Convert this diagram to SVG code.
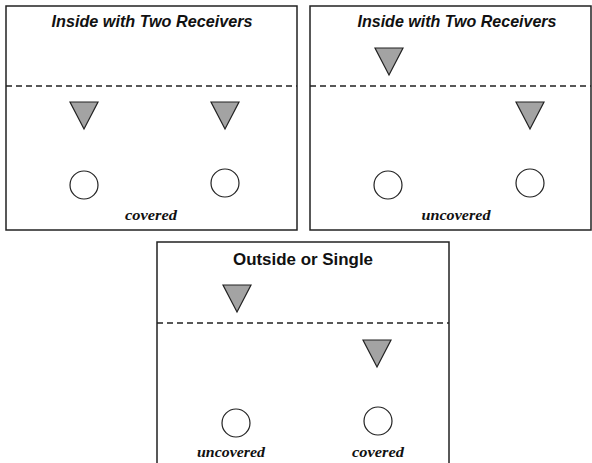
<svg xmlns="http://www.w3.org/2000/svg" width="592" height="463" viewBox="0 0 592 463">
<style>
.panel{fill:#fff;stroke:#222;stroke-width:1.5}
.dash{stroke:#222;stroke-width:1.3;stroke-dasharray:6 4;fill:none}
.def{fill:#a3a3a3;stroke:#222;stroke-width:1.2;stroke-linejoin:miter}
.rec{fill:#fff;stroke:#222;stroke-width:1.2}
.title{font-family:"Liberation Sans",Arial,sans-serif;font-weight:bold;font-size:17px;fill:#111;text-anchor:middle}
.lbl{font-family:"Liberation Serif","Times New Roman",serif;font-weight:bold;font-style:italic;font-size:15px;fill:#111;text-anchor:middle}
</style>
<rect width="592" height="463" fill="#fff"/>
<g id="panel1">
<rect class="panel" x="6" y="6" width="291" height="224"/>
<text class="title" x="152" y="27" font-style="italic" textLength="201" lengthAdjust="spacingAndGlyphs">Inside with Two Receivers</text>
<line class="dash" x1="6" y1="86" x2="297" y2="86"/>
<polygon class="def" points="70,102 98,102 84,129"/>
<polygon class="def" points="211,102 239,102 225,129"/>
<circle class="rec" cx="84" cy="185" r="14"/>
<circle class="rec" cx="225" cy="183" r="14"/>
<text class="lbl" x="151" y="220" textLength="52" lengthAdjust="spacingAndGlyphs">covered</text>
</g>
<g id="panel2">
<rect class="panel" x="310" y="6" width="281" height="224"/>
<text class="title" x="457" y="27" font-style="italic" textLength="199" lengthAdjust="spacingAndGlyphs">Inside with Two Receivers</text>
<line class="dash" x1="310" y1="86" x2="591" y2="86"/>
<polygon class="def" points="375,48 403,48 389,75"/>
<polygon class="def" points="516,102 544,102 530,129"/>
<circle class="rec" cx="388" cy="185" r="14"/>
<circle class="rec" cx="530" cy="183" r="14"/>
<text class="lbl" x="456" y="220" textLength="69" lengthAdjust="spacingAndGlyphs">uncovered</text>
</g>
<g id="panel3">
<rect class="panel" x="157" y="242" width="292" height="230"/>
<text class="title" x="303" y="265" textLength="140" lengthAdjust="spacingAndGlyphs">Outside or Single</text>
<line class="dash" x1="157" y1="323" x2="449" y2="323"/>
<polygon class="def" points="223,285 251,285 237,312"/>
<polygon class="def" points="363,340 391,340 377,367"/>
<circle class="rec" cx="236" cy="423" r="14"/>
<circle class="rec" cx="378" cy="421" r="14"/>
<text class="lbl" x="231" y="457" textLength="68" lengthAdjust="spacingAndGlyphs">uncovered</text>
<text class="lbl" x="378" y="457" textLength="52" lengthAdjust="spacingAndGlyphs">covered</text>
</g>
<g id="connectors"></g>
</svg>
